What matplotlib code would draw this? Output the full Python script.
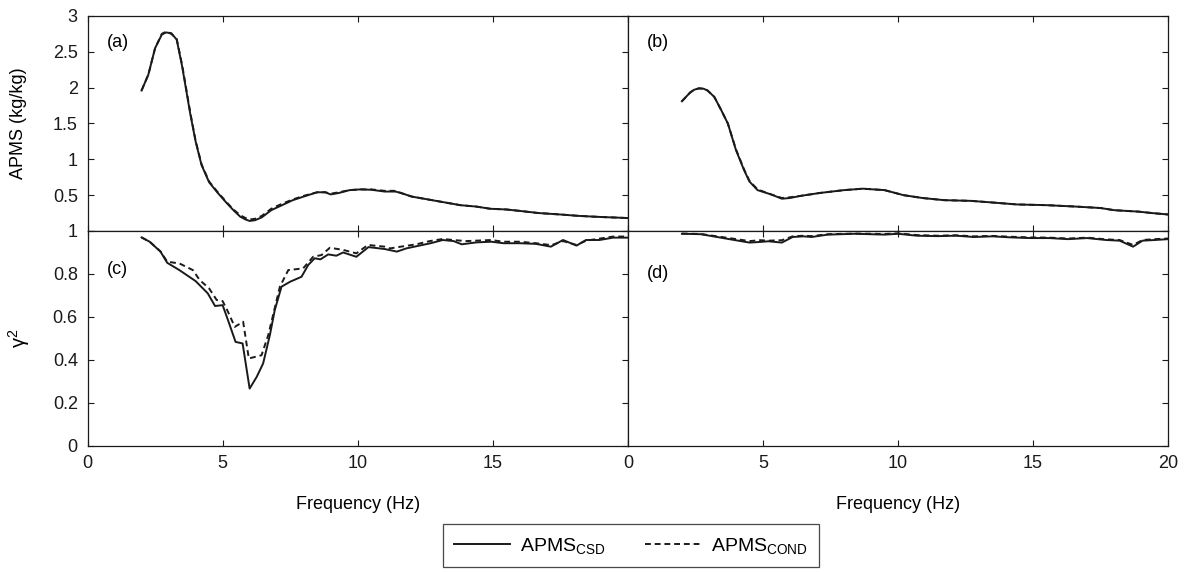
# ==========================================
# APMS AND COHERENCE - TWO CONDITIONS
# ==========================================

import matplotlib
matplotlib.use("Agg")
import matplotlib.pyplot as plt

plt.rcParams["font.family"] = ["Liberation Sans", "DejaVu Sans"]
plt.rcParams["mathtext.fontset"] = "custom"
plt.rcParams["mathtext.rm"] = "Liberation Sans"
plt.rcParams["mathtext.it"] = "Liberation Sans:italic"
plt.rcParams["font.size"] = 13

# ------------------------------------------
# 1. Data
# ------------------------------------------

# panel (a): APMS, left condition
freq_a = [2.0, 2.25, 2.5, 2.75, 2.9, 3.1, 3.3, 3.5, 3.8, 4.0, 4.22, 4.5, 4.8,
          5.15, 5.4, 5.65, 5.85, 6.0, 6.2, 6.45, 6.8, 7.2, 7.6, 8.0, 8.5, 8.8,
          9.0, 9.3, 9.7, 10.1, 10.5, 11.0, 11.4, 11.6, 12.0, 12.6, 13.2, 13.8,
          14.4, 14.9, 15.5, 16.0, 16.7, 17.5, 18.2, 19.0, 19.7, 20.0]
apms_csd_a = [1.96, 2.18, 2.55, 2.74, 2.77, 2.76, 2.67, 2.3, 1.64, 1.25, 0.92,
              0.68, 0.54, 0.39, 0.29, 0.2, 0.16, 0.14, 0.15, 0.19, 0.29, 0.36,
              0.43, 0.48, 0.54, 0.54, 0.51, 0.53, 0.57, 0.58, 0.575, 0.55,
              0.55, 0.53, 0.48, 0.44, 0.40, 0.36, 0.34, 0.31, 0.30, 0.28, 0.25,
              0.23, 0.21, 0.195, 0.185, 0.18]
apms_cond_a = [1.96, 2.18, 2.55, 2.75, 2.78, 2.75, 2.68, 2.32, 1.66, 1.26, 0.93,
               0.69, 0.55, 0.40, 0.30, 0.22, 0.18, 0.16, 0.17, 0.21, 0.31, 0.38,
               0.44, 0.49, 0.54, 0.54, 0.52, 0.54, 0.57, 0.58, 0.58, 0.56,
               0.56, 0.53, 0.48, 0.44, 0.40, 0.36, 0.34, 0.31, 0.30, 0.28,
               0.25, 0.23, 0.21, 0.195, 0.185, 0.18]

# panel (b): APMS, right condition
freq_b = [2.0, 2.15, 2.3, 2.45, 2.63, 2.8, 2.95, 3.2, 3.45, 3.7, 4.0, 4.3, 4.5,
          4.8, 5.3, 5.7, 6.0, 6.4, 7.1, 8.0, 8.7, 9.5, 10.2, 10.9, 11.7, 12.7,
          13.4, 14.4, 15.5, 16.6, 17.5, 18.0, 18.9, 19.4, 20.0]
apms_csd_b = [1.81, 1.87, 1.93, 1.97, 1.99, 1.985, 1.96, 1.87, 1.69, 1.50,
              1.13, 0.85, 0.69, 0.57, 0.51, 0.45, 0.46, 0.49, 0.53, 0.57,
              0.59, 0.57, 0.50, 0.46, 0.43, 0.42, 0.40, 0.37, 0.36, 0.34,
              0.32, 0.29, 0.27, 0.25, 0.23]
apms_cond_b = [1.81, 1.87, 1.93, 1.97, 1.99, 1.985, 1.96, 1.87, 1.69, 1.50,
               1.14, 0.86, 0.70, 0.58, 0.51, 0.46, 0.47, 0.49, 0.53, 0.57,
               0.59, 0.57, 0.50, 0.46, 0.43, 0.42, 0.40, 0.37, 0.36, 0.34,
               0.32, 0.29, 0.27, 0.25, 0.23]

# panel (c): coherence, left condition
freq_c_csd = [2.0, 2.3, 2.7, 2.95, 3.4, 4.0, 4.45, 4.72, 5.0, 5.2, 5.48, 5.74,
              6.0, 6.26, 6.5, 6.75, 6.93, 7.18, 7.5, 7.92, 8.17, 8.41, 8.62,
              8.91, 9.21, 9.46, 9.95, 10.4, 11.0, 11.45, 11.8, 12.4, 12.7,
              13.15, 13.55, 13.85, 14.4, 14.95, 15.4, 16.0, 16.6, 17.15, 17.6,
              18.1, 18.45, 18.95, 19.45, 20.0]
coh_csd_c = [0.97, 0.95, 0.904, 0.852, 0.818, 0.767, 0.71, 0.651, 0.655, 0.585,
             0.484, 0.477, 0.267, 0.321, 0.384, 0.516, 0.632, 0.741, 0.764,
             0.787, 0.842, 0.873, 0.868, 0.891, 0.885, 0.90, 0.88, 0.925,
             0.916, 0.904, 0.919, 0.935, 0.943, 0.958, 0.953, 0.938, 0.947,
             0.95, 0.943, 0.943, 0.94, 0.927, 0.958, 0.932, 0.958, 0.958,
             0.969, 0.969]
freq_c_cond = [2.0, 2.3, 2.7, 2.95, 3.4, 3.9, 4.15, 4.5, 4.78, 5.0, 5.2, 5.45,
               5.76, 5.97, 6.44, 6.69, 7.12, 7.43, 7.98, 8.35, 8.66, 8.97,
               9.46, 9.95, 10.38, 11.0, 11.2, 11.6, 12.17, 12.67, 13.16, 13.53,
               14.02, 14.95, 15.38, 16.0, 16.6, 17.17, 17.6, 18.1, 18.46, 19.45,
               20.0]
coh_cond_c = [0.97, 0.95, 0.905, 0.857, 0.849, 0.818, 0.772, 0.733, 0.679,
              0.674, 0.624, 0.554, 0.578, 0.407, 0.422, 0.516, 0.741, 0.818,
              0.826, 0.88, 0.888, 0.922, 0.912, 0.896, 0.935, 0.927, 0.919,
              0.927, 0.938, 0.953, 0.963, 0.958, 0.953, 0.958, 0.95, 0.95,
              0.943, 0.934, 0.953, 0.935, 0.955, 0.974, 0.974]

# panel (d): coherence, right condition
freq_d = [2.0, 2.7, 3.3, 3.8, 4.5, 4.9, 5.2, 5.7, 6.1, 6.5, 6.8, 7.4, 8.4, 9.5,
          10.0, 10.7, 11.45, 12.15, 12.8, 13.5, 14.2, 14.9, 15.6, 16.3, 17.0,
          17.7, 18.2, 18.7, 19.05, 19.5, 20.0]
coh_csd_d = [0.987, 0.985, 0.972, 0.961, 0.946, 0.949, 0.952, 0.946, 0.972,
             0.975, 0.972, 0.983, 0.987, 0.983, 0.987, 0.978, 0.976, 0.978,
             0.972, 0.975, 0.97, 0.967, 0.967, 0.962, 0.967, 0.958, 0.955,
             0.927, 0.955, 0.958, 0.962]
coh_cond_d = [0.988, 0.986, 0.975, 0.966, 0.953, 0.957, 0.955, 0.957, 0.975,
              0.978, 0.976, 0.985, 0.988, 0.986, 0.989, 0.981, 0.978, 0.980,
              0.975, 0.977, 0.973, 0.970, 0.969, 0.965, 0.969, 0.961, 0.958,
              0.935, 0.958, 0.962, 0.965]

panel_labels = ["(a)", "(b)", "(c)", "(d)"]

# ------------------------------------------
# 2. Figure layout
# ------------------------------------------

fig = plt.figure(figsize=(11.86, 5.72), dpi=100)

ax_a = fig.add_axes([0.0738, 0.5962, 0.4556, 0.3759])
ax_b = fig.add_axes([0.5294, 0.5962, 0.4556, 0.3759])
ax_c = fig.add_axes([0.0738, 0.2203, 0.4556, 0.3759])
ax_d = fig.add_axes([0.5294, 0.2203, 0.4556, 0.3759])

dash = (0, (3, 2))
lw = 1.4

# ------------------------------------------
# 3. Curves
# ------------------------------------------

ax_a.plot(freq_a, apms_csd_a, color="#1a1a1a", lw=lw)
ax_a.plot(freq_a, apms_cond_a, color="#1a1a1a", lw=lw, linestyle=dash)

ax_b.plot(freq_b, apms_csd_b, color="#1a1a1a", lw=lw)
ax_b.plot(freq_b, apms_cond_b, color="#1a1a1a", lw=lw, linestyle=dash)

ax_c.plot(freq_c_csd, coh_csd_c, color="#1a1a1a", lw=lw,
          label=r"APMS$_{\mathrm{CSD}}$")
ax_c.plot(freq_c_cond, coh_cond_c, color="#1a1a1a", lw=lw, linestyle=dash,
          label=r"APMS$_{\mathrm{COND}}$")

ax_d.plot(freq_d, coh_csd_d, color="#1a1a1a", lw=lw)
ax_d.plot(freq_d, coh_cond_d, color="#1a1a1a", lw=lw, linestyle=dash)

# ------------------------------------------
# 4. Axes styling
# ------------------------------------------

for ax in [ax_a, ax_b, ax_c, ax_d]:
    ax.set_xlim(0, 20)
    ax.set_xticks([0, 5, 10, 15, 20])
    ax.tick_params(direction="in", top=True, right=True, length=4.5,
                   width=0.8, labelsize=13, colors="#1a1a1a")
    ax.tick_params(axis="x", pad=6.5)
    ax.tick_params(axis="y", pad=7)
    for sp in ax.spines.values():
        sp.set_linewidth(0.9)
        sp.set_color("#1a1a1a")

for ax in [ax_a, ax_b]:
    ax.set_ylim(0, 3)
    ax.set_yticks([0, 0.5, 1, 1.5, 2, 2.5, 3])
    ax.set_xticklabels([])

for ax in [ax_c, ax_d]:
    ax.set_ylim(0, 1)
    ax.set_yticks([0, 0.2, 0.4, 0.6, 0.8, 1])
    ax.set_xlabel("Frequency (Hz)", fontsize=13, labelpad=17)

ax_a.set_yticklabels(["", "0.5", "1", "1.5", "2", "2.5", "3"])
ax_c.set_yticklabels(["0", "0.2", "0.4", "0.6", "0.8", "1"])
ax_c.set_xticklabels(["0", "5", "10", "15", ""])
ax_d.set_xticklabels(["0", "5", "10", "15", "20"])

for ax in [ax_b, ax_d]:
    ax.tick_params(axis="y", left=False, labelleft=False)

ax_a.set_ylabel("APMS (kg/kg)", fontsize=13)
ax_a.yaxis.set_label_coords(-0.112, 0.5)
ax_c.set_ylabel(r"γ$^2$", fontsize=14.5)
ax_c.yaxis.set_label_coords(-0.102, 0.5)

ax_a.text(0.036, 0.875, panel_labels[0], transform=ax_a.transAxes,
          fontsize=13, va="center")
ax_b.text(0.036, 0.875, panel_labels[1], transform=ax_b.transAxes,
          fontsize=13, va="center")
ax_c.text(0.036, 0.82, panel_labels[2], transform=ax_c.transAxes,
          fontsize=13, va="center")
ax_d.text(0.036, 0.80, panel_labels[3], transform=ax_d.transAxes,
          fontsize=13, va="center")

# ------------------------------------------
# 5. Legend
# ------------------------------------------

leg = fig.legend(*ax_c.get_legend_handles_labels(), loc="center",
                 bbox_to_anchor=(0.532, 0.046), ncol=2, fontsize=14,
                 frameon=True, fancybox=False, handlelength=2.85,
                 handletextpad=0.55, columnspacing=2.0, borderpad=0.6)
leg.get_frame().set_edgecolor("#1a1a1a")
leg.get_frame().set_linewidth(0.9)

fig.savefig("out.png", dpi=100)
